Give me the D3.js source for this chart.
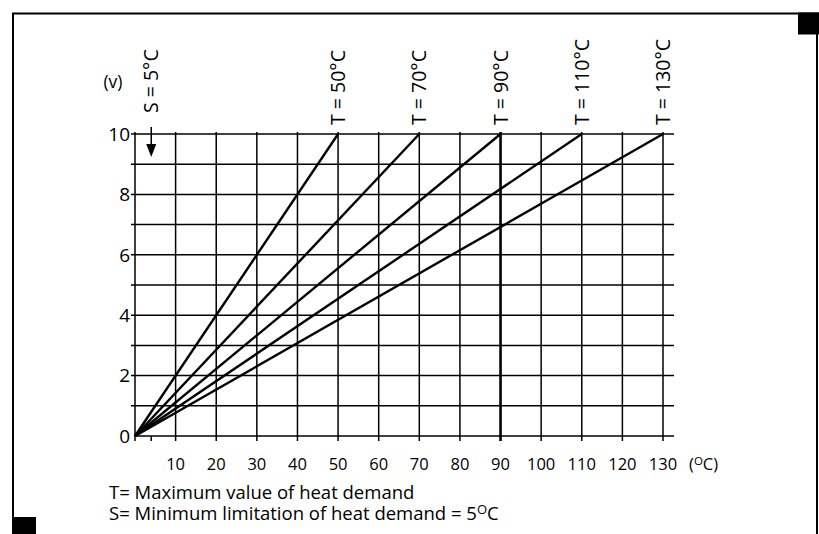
<!DOCTYPE html>
<html>
<head>
<meta charset="utf-8">
<script src="https://cdn.jsdelivr.net/npm/d3@7/dist/d3.min.js"></script>
<style>
  html, body { margin: 0; padding: 0; background: #fff; }
  svg { display: block; font-family: "Open Sans", sans-serif; }
</style>
</head>
<body>
<svg id="chart"></svg>
<script>
// values
const xTicks = [10, 20, 30, 40, 50, 60, 70, 80, 90, 100, 110, 120, 130];
const yTicks = [0, 2, 4, 6, 8, 10];
const yGrid = [1, 2, 3, 4, 5, 6, 7, 8, 9, 10];
const maxTemps = [50, 70, 90, 110, 130];   // T curves
const lineStartX = 0;
const lineStartY = 0;
const lineEndY = 10;
const minLimit = 5;                         // S = 5°C
const minMarkX = 4;                         // where the S arrow sits on the drawing
const legendLines = [
  ['T= Maximum value of heat demand', ''],
  ['S= Minimum limitation of heat demand = 5', 'C']
];

const width = 819;
const height = 534;

const svg = d3.select('#chart')
  .attr('width', width)
  .attr('height', height);

// frame
svg.append('path')
  .attr('d', `M13,534 V13.5 H819 M817,13 V534`)
  .attr('fill', 'none')
  .attr('stroke', '#000')
  .attr('stroke-width', 2);
svg.append('rect').attr('x', 798).attr('y', 12.5).attr('width', 21).attr('height', 22).attr('fill', '#000');
svg.append('rect').attr('x', 12).attr('y', 517).attr('width', 24).attr('height', 17).attr('fill', '#000');

const x = d3.scaleLinear().domain([0, 130]).range([135, 663]);
const y = d3.scaleLinear().domain([0, 10]).range([436, 134]);
const gridRight = 674;

const g = svg.append('g');

// horizontal grid
g.selectAll('.hgrid')
  .data(yGrid)
  .join('line')
  .attr('x1', x(0) - 4)
  .attr('x2', gridRight)
  .attr('y1', d => y(d))
  .attr('y2', d => y(d))
  .attr('stroke', '#000')
  .attr('stroke-width', 1.5);

// vertical grid
g.selectAll('.vgrid')
  .data([0].concat(xTicks))
  .join('line')
  .attr('x1', d => x(d))
  .attr('x2', d => x(d))
  .attr('y1', y(10) - 2)
  .attr('y2', y(0) + 5)
  .attr('stroke', '#000')
  .attr('stroke-width', d => d === 90 ? 2.6 : 1.5);

// x axis baseline
g.append('line')
  .attr('x1', x(0)).attr('x2', gridRight)
  .attr('y1', y(0)).attr('y2', y(0))
  .attr('stroke', '#000').attr('stroke-width', 1.5);

// S marker tick at the bottom
g.append('line')
  .attr('x1', x(minMarkX)).attr('x2', x(minMarkX))
  .attr('y1', y(0)).attr('y2', y(0) + 5)
  .attr('stroke', '#000').attr('stroke-width', 1.5);

// y tick labels
g.selectAll('.ylab')
  .data(yTicks)
  .join('text')
  .attr('x', x(0) - 5)
  .attr('y', d => y(d))
  .attr('dy', '0.36em')
  .attr('text-anchor', 'end')
  .attr('font-size', 19)
  .text(d => d);

// x tick labels
g.selectAll('.xlab')
  .data(xTicks)
  .join('text')
  .attr('x', d => x(d))
  .attr('y', 470)
  .attr('text-anchor', 'middle')
  .attr('font-size', 16.5)
  .text(d => d);

// unit (°C)
const unit = g.append('text')
  .attr('x', 689)
  .attr('y', 470)
  .attr('font-size', 16.5);
unit.append('tspan').text('(');
unit.append('tspan').attr('font-size', 11.5).attr('dy', -5).text('O');
unit.append('tspan').attr('dy', 5).text('C)');

// y unit
g.append('text')
  .attr('x', 113)
  .attr('y', 88)
  .attr('text-anchor', 'middle')
  .attr('font-size', 17.5)
  .text('(v)');

// T lines from origin
const line = d3.line().x(d => x(d[0])).y(d => y(d[1]));
g.selectAll('.tline')
  .data(maxTemps)
  .join('path')
  .attr('d', t => line([[lineStartX, lineStartY], [t, lineEndY]]))
  .attr('fill', 'none')
  .attr('stroke', '#000')
  .attr('stroke-width', 2.4);

// T labels, rotated
g.selectAll('.tlab')
  .data(maxTemps)
  .join('text')
  .attr('transform', t => `translate(${x(t) + 7},${y(10) - 9}) rotate(-90)`)
  .attr('font-size', 19.5)
  .text(t => `T = ${t}°C`);

// S label and arrow
g.append('text')
  .attr('transform', `translate(${x(minMarkX) + 7},${y(10) - 21}) rotate(-90)`)
  .attr('font-size', 19.5)
  .text(`S = ${minLimit}°C`);
g.append('line')
  .attr('x1', x(minMarkX)).attr('x2', x(minMarkX))
  .attr('y1', y(10) - 7).attr('y2', y(10) + 12)
  .attr('stroke', '#000').attr('stroke-width', 1.5);
g.append('path')
  .attr('d', d3.line()([[x(minMarkX) - 5, y(10) + 10], [x(minMarkX) + 5, y(10) + 10], [x(minMarkX), y(10) + 23]]) + 'Z')
  .attr('fill', '#000');

// legend text
const legend = g.selectAll('.legend')
  .data(legendLines)
  .join('text')
  .attr('x', 109)
  .attr('y', (d, i) => 499 + i * 21)
  .attr('font-size', 18.5);
legend.append('tspan').text(d => d[0]);
legend.filter(d => d[1]).append('tspan').attr('font-size', 13).attr('dy', -6).text('O');
legend.filter(d => d[1]).append('tspan').attr('dy', 6).text(d => d[1]);
</script>
</body>
</html>
